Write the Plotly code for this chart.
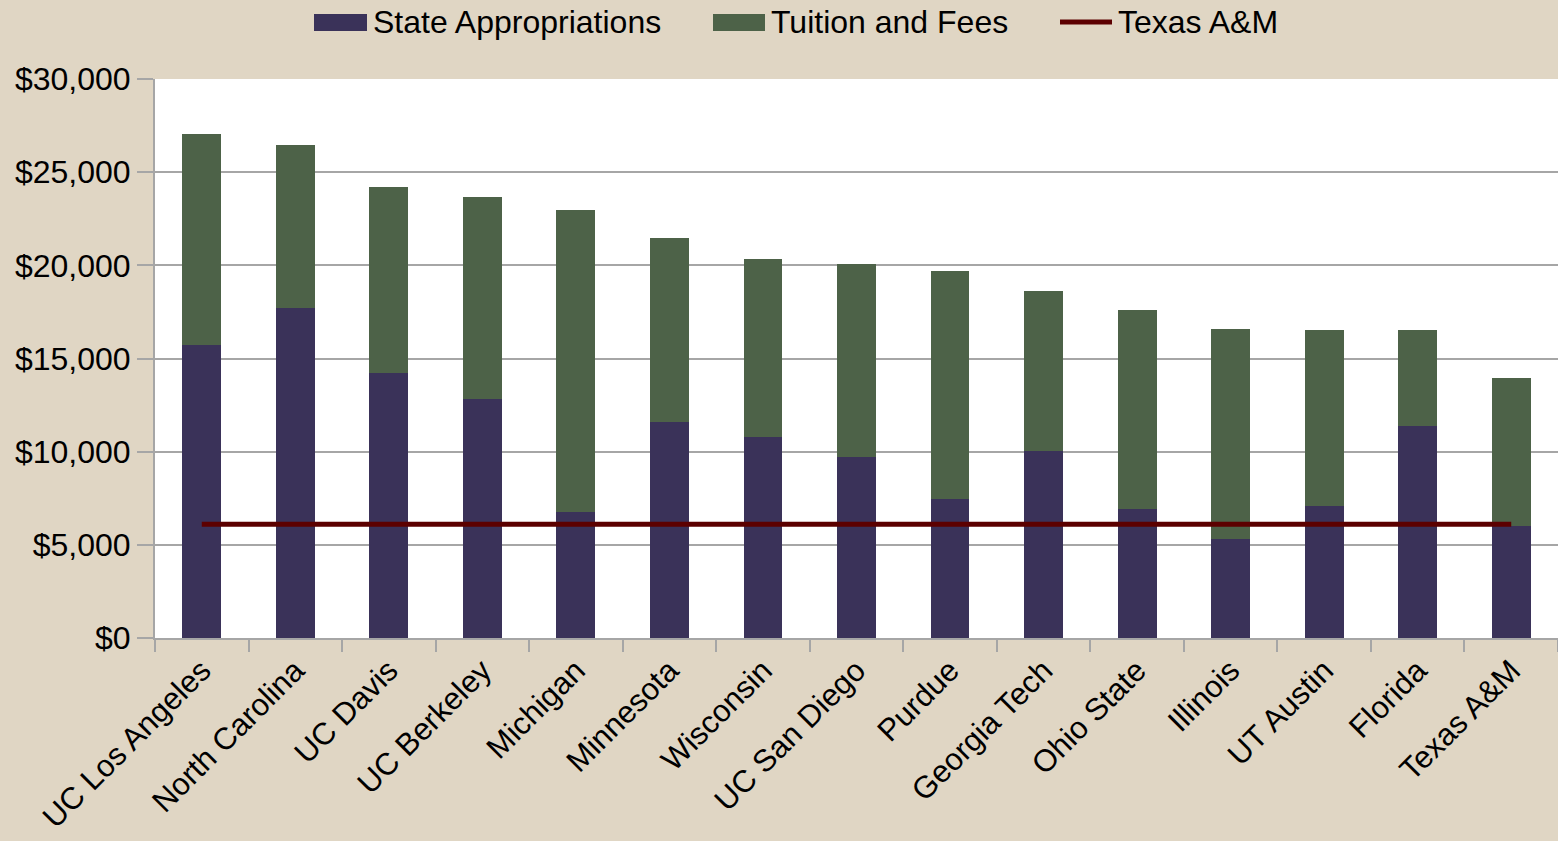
import plotly.graph_objects as go

universities = ["UC Los Angeles", "North Carolina", "UC Davis", "UC Berkeley", "Michigan",
                "Minnesota", "Wisconsin", "UC San Diego", "Purdue", "Georgia Tech",
                "Ohio State", "Illinois", "UT Austin", "Florida", "Texas A&M"]
state_appropriations = [15700, 17700, 14200, 12800, 6750, 11600, 10800, 9700, 7450,
                        10050, 6950, 5300, 7100, 11400, 6000]
total_funding = [27050, 26450, 24200, 23650, 22950, 21450, 20350, 20050, 19700,
                 18600, 17600, 16600, 16550, 16550, 13950]
tuition_and_fees = [t - s for t, s in zip(total_funding, state_appropriations)]
texas_am_level = [6100] * len(universities)
series_names = ["State Appropriations", "Tuition and Fees", "Texas A&M"]

FONT = "Liberation Sans, Arial, sans-serif"
GRID = "#A6A6A6"
PURPLE = "#3A3259"
GREEN = "#4D6248"
RED = "#5C0000"

W, H = 1558, 841
ML, MR, MT, MB = 155, 0, 79, 203
PW, PH = W - ML - MR, H - MT - MB


def px(x):
    return (x - ML) / PW


def py(y):
    return (H - MB - y) / PH


fig = go.Figure()
fig.add_trace(go.Bar(
    name=series_names[0], x=universities, y=state_appropriations,
    marker=dict(color=PURPLE, line=dict(width=0)), showlegend=False,
))
fig.add_trace(go.Bar(
    name=series_names[1], x=universities, y=tuition_and_fees,
    marker=dict(color=GREEN, line=dict(width=0)), showlegend=False,
))
fig.add_trace(go.Scatter(
    name=series_names[2], x=universities, y=texas_am_level, mode="lines",
    line=dict(color=RED, width=5), showlegend=False,
))

# custom legend (rectangular swatches like the original)
shapes = [
    dict(type="rect", xref="paper", yref="paper", x0=px(314), x1=px(367),
         y0=py(31), y1=py(14), fillcolor=PURPLE, line=dict(width=0)),
    dict(type="rect", xref="paper", yref="paper", x0=px(713), x1=px(765),
         y0=py(31), y1=py(14), fillcolor=GREEN, line=dict(width=0)),
    dict(type="line", xref="paper", yref="paper", x0=px(1060), x1=px(1112),
         y0=py(22), y1=py(22), line=dict(color=RED, width=5)),
]
annotations = [
    dict(text=series_names[0], x=px(371), y=py(22)),
    dict(text=series_names[1], x=px(769), y=py(22)),
    dict(text=series_names[2], x=px(1116), y=py(22)),
]
for a in annotations:
    a.update(xref="paper", yref="paper", xanchor="left", yanchor="middle",
             showarrow=False, font=dict(size=32, family=FONT, color="#000000"))

fig.update_layout(
    width=W, height=H,
    barmode="stack", bargap=0.585,
    paper_bgcolor="#E0D6C4", plot_bgcolor="#FFFFFF",
    margin=dict(l=ML, r=MR, t=MT, b=MB),
    font=dict(family=FONT, size=32, color="#000000"),
    showlegend=False,
    shapes=shapes, annotations=annotations,
    xaxis=dict(
        tickangle=-45, tickson="boundaries", ticks="outside", ticklen=12,
        tickcolor=GRID, tickwidth=2, showline=True, linecolor=GRID, linewidth=2,
        showgrid=False, tickfont=dict(size=31),
    ),
    yaxis=dict(
        range=[0, 30000], dtick=5000, tickprefix="$", tickformat=",d",
        ticks="outside", ticklen=16, tickcolor=GRID, tickwidth=2,
        showline=True, linecolor=GRID, linewidth=2,
        showgrid=True, gridcolor=GRID, gridwidth=2, zeroline=False,
        tickfont=dict(size=32),
    ),
)

fig.write_html("out.html")
